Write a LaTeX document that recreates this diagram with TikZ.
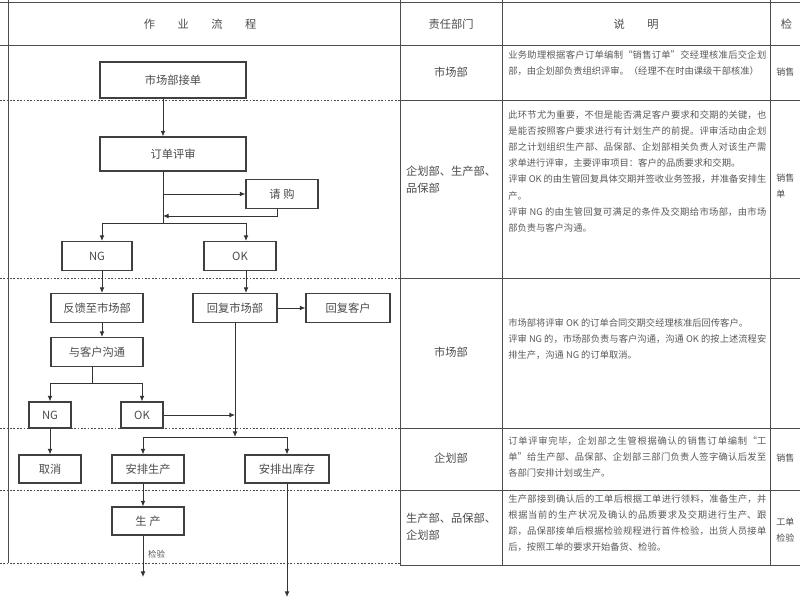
\documentclass[tikz,border=0pt]{standalone}
\usepackage{fontspec}
\setmainfont{Liberation Serif}
\newfontfamily\cjk{Noto Sans CJK SC}
\XeTeXlinebreaklocale "zh"
\XeTeXlinebreakskip=0pt plus 1pt
\usetikzlibrary{arrows.meta,positioning}
\begin{document}
\begin{tikzpicture}[x=0.025cm,y=-0.025cm,
    procbox/.style={draw=black!75, line width=0.9pt, fill=white, minimum height=0.72cm, font={\cjk\fontsize{8}{9}\selectfont}, text=black!70},
    flow/.style={draw=black!80, line width=0.6pt, -{Latex[length=1.4mm,width=1.2mm]}},
    link/.style={draw=black!80, line width=0.6pt},
    sep/.style={draw=black!70, line width=0.6pt, dash pattern=on 1.2pt off 1.2pt},
    rule/.style={draw=black!70, line width=0.6pt},
    dept/.style={font={\cjk\fontsize{8}{12}\selectfont}, text=black!70, align=left},
    side/.style={dept, anchor=west, inner sep=0pt, font={\cjk\fontsize{6.4}{11.5}\selectfont}},
    note/.style={font={\cjk\fontsize{6.6}{11.5}\selectfont}, text=black!65, text width=6.45cm, align=justify, anchor=north west, inner sep=0pt}]
  \useasboundingbox (0,0) rectangle (800,600);
  \clip (0,0) rectangle (800,600);
  % table frame
  \draw[rule] (8,0) -- (8,563);
  \foreach \x in {400,502,770} {
    \draw[rule] (\x,0) -- (\x,565);
  }
  \draw[rule] (0,2) -- (800,2);
  \draw[rule] (0,45) -- (800,45);
  \foreach \y in {100,278,428,490} {
    \draw[sep] (0,\y) -- (400,\y);
    \draw[rule] (400,\y) -- (800,\y);
  }
  \draw[sep] (0,563) -- (400,563);
  \draw[rule] (400,565) -- (800,565);
  % header
  \node[dept] (hflow) at (200,24) {作\quad\quad 业\quad\quad 流\quad\quad 程};
  \node[dept] (hdept) at (451,24) {责任部门};
  \node[dept] (hnote) at (636,24) {说\quad\quad 明};
  \node[dept, anchor=west] (hform) at (776,24) {检};
  % departments
  \foreach \t/\y [count=\n] in {市场部/72, {企划部、生产部、\\品保部}/180, 市场部/352, 企划部/458, {生产部、品保部、\\企划部}/527} {
    \node[dept] (dept\n) at (451,\y) {\t};
  }
  % last column
  \node[side] (form1) at (776,72) {销售};
  \node[side] (form2) at (776,186) {销售\\单};
  \node[side] (form4) at (776,458) {销售};
  \node[side] (form5) at (776,530) {工单\\检验};
  % notes
  \node[note] (note1) at (508,50) {业务助理根据客户订单编制“销售订单”交经理核准后交企划部，由企划部负责组织评审。（经理不在时由课级干部核准）};
  \node[note] (note2) at (508,110) {此环节尤为重要，不但是能否满足客户要求和交期的关键，也是能否按照客户要求进行有计划生产的前提。评审活动由企划部之计划组织生产部、品保部、企划部相关负责人对该生产需求单进行评审，主要评审项目：客户的品质要求和交期。\\评审 OK 的由生管回复具体交期并签收业务签报，并准备安排生产。\\评审 NG 的由生管回复可满足的条件及交期给市场部，由市场部负责与客户沟通。};
  \node[note] (note3) at (508,318) {市场部将评审 OK 的订单合同交期交经理核准后回传客户。\\评审 NG 的，市场部负责与客户沟通，沟通 OK 的按上述流程安排生产，沟通 NG 的订单取消。};
  \node[note] (note4) at (508,436) {订单评审完毕，企划部之生管根据确认的销售订单编制“工单”给生产部、品保部、企划部三部门负责人签字确认后发至各部门安排计划或生产。};
  \node[note] (note5) at (508,494) {生产部接到确认后的工单后根据工单进行领料，准备生产，并根据当前的生产状况及确认的品质要求及交期进行生产、跟踪，品保部接单后根据检验规程进行首件检验，出货人员接单后，按照工单的要求开始备货、检验。};
  % flow boxes
  \node[procbox, minimum width=3.65cm, minimum height=0.9cm] (order) at (173,80) {市场部接单};
  \node[procbox, minimum width=3.65cm, minimum height=0.85cm] (review) at (173,154) {订单评审};
  \node[procbox, minimum width=1.8cm] (buy) at (282,194) {请\ 购};
  \node[procbox, minimum width=1.75cm] (ng) at (97,256) {NG};
  \node[procbox, minimum width=1.8cm] (ok) at (240,256) {OK};
  \node[procbox, minimum width=2.3cm] (back) at (97,308) {反馈至市场部};
  \node[procbox, minimum width=2.1cm] (reply) at (235,308) {回复市场部};
  \node[procbox, minimum width=2.1cm] (client) at (348,308) {回复客户};
  \node[procbox, minimum width=2.3cm] (talk) at (97,352) {与客户沟通};
  \node[procbox, minimum width=1.05cm, minimum height=0.65cm] (ngb) at (50,415) {NG};
  \node[procbox, minimum width=1.05cm, minimum height=0.65cm] (okb) at (142,415) {OK};
  \node[procbox, minimum width=1.55cm, minimum height=0.7cm] (cancel) at (50,469) {取消};
  \node[procbox, minimum width=1.8cm, minimum height=0.7cm] (plan) at (148,469) {安排生产};
  \node[procbox, minimum width=2.1cm, minimum height=0.7cm] (stock) at (287,469) {安排出库存};
  \node[procbox, minimum width=1.8cm, minimum height=0.7cm] (make) at (148,521) {生\ 产};
  \coordinate (join1) at (163,223);
  \coordinate (join2) at (235,437);
  \coordinate (split) at (92,383);
  \coordinate (end1) at (143,577);
  \coordinate (end2) at (287,597);
  % connectors
  \draw[flow] (order.south -| join1) -- (review.north -| join1);
  \draw[link] (review.south -| join1) -- (join1);
  \draw[flow] (join1 |- buy.west) -- (buy.west);
  \draw[flow] (buy.south -| 277,0) |- (join1 |- 0,216);
  \draw[flow] (join1) -| (ng.north -| 102,0);
  \draw[flow] (join1) -| (ok.north -| 246,0);
  \draw[flow] (ng.south -| 102,0) -- (back.north -| 102,0);
  \draw[flow] (ok.south -| 246,0) -- (reply.north -| 246,0);
  \draw[flow] (reply.east) -- (client.west);
  \draw[flow] (back.south -| 102,0) -- (talk.north -| 102,0);
  \draw[link] (talk.south -| split) -- (split);
  \draw[flow] (split) -| (ngb.north);
  \draw[flow] (split) -| (okb.north);
  \draw[flow] (reply.south) -- (join2);
  \draw[flow] (okb.east) -- (okb.east -| join2);
  \draw[flow] (join2) -| (plan.north -| end1);
  \draw[flow] (join2) -| (stock.north);
  \draw[flow] (ngb.south) -- (cancel.north);
  \draw[flow] (plan.south -| end1) -- (make.north -| end1);
  \draw[flow] (make.south -| end1) -- node[right, pos=0.45, font={\cjk\fontsize{6}{7}\selectfont}, text=black!65] (check) {检验} (end1);
  \draw[flow] (stock.south) -- (end2);
\end{tikzpicture}
\end{document}
